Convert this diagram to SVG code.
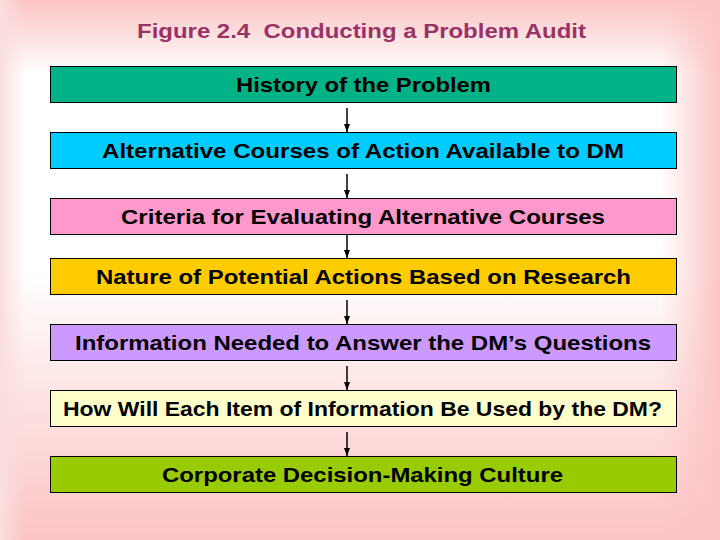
<svg xmlns="http://www.w3.org/2000/svg" width="720" height="540" viewBox="0 0 720 540">
<defs>
<linearGradient id="gTop" x1="0" y1="0" x2="0" y2="1"><stop offset="0" stop-color="#fcc4c4"/><stop offset="1" stop-color="#fcc4c4" stop-opacity="0"/></linearGradient>
<linearGradient id="gBot" x1="0" y1="0" x2="0" y2="1"><stop offset="0" stop-color="#fcc4c4" stop-opacity="0"/><stop offset="1" stop-color="#fcc4c4"/></linearGradient>
<linearGradient id="gRight" x1="0" y1="0" x2="1" y2="0"><stop offset="0" stop-color="#fcc4c4" stop-opacity="0"/><stop offset="1" stop-color="#fcc4c4"/></linearGradient>
<linearGradient id="gLeft" x1="0" y1="0" x2="1" y2="0"><stop offset="0" stop-color="#fbdede"/><stop offset="1" stop-color="#fbdede" stop-opacity="0"/></linearGradient>
<marker id="ah" viewBox="0 0 8 8" refX="8" refY="4" markerWidth="8" markerHeight="8" markerUnits="userSpaceOnUse" orient="auto"><path d="M0,1 L8,4 L0,7 Z" fill="#000"/></marker>
<style>
.box{stroke:#000;stroke-width:1}
.t{font-family:"Liberation Sans",Arial,sans-serif;font-weight:bold;font-size:20.5px;fill:#000;text-anchor:middle}
.title{font-family:"Liberation Sans",Arial,sans-serif;font-weight:bold;font-size:20.5px;fill:#993366;text-anchor:middle}
.c{stroke:#000;stroke-width:1.5;fill:none;marker-end:url(#ah)}
</style>
</defs>
<rect width="720" height="540" fill="#ffffff"/>
<rect x="0" y="0" width="720" height="75" fill="url(#gTop)"/>
<rect x="0" y="270" width="720" height="270" fill="url(#gBot)"/>
<rect x="660" y="0" width="60" height="540" fill="url(#gRight)"/>
<rect x="0" y="0" width="25" height="540" fill="url(#gLeft)"/>
<text class="title" x="361.5" y="38" textLength="449" lengthAdjust="spacingAndGlyphs">Figure 2.4&#160; Conducting a Problem Audit</text>
<g id="connectors">
<line class="c" x1="347" y1="108" x2="347" y2="132"/>
<line class="c" x1="347" y1="174" x2="347" y2="198"/>
<line class="c" x1="347" y1="234" x2="347" y2="258"/>
<line class="c" x1="347" y1="300" x2="347" y2="324"/>
<line class="c" x1="347" y1="366" x2="347" y2="390"/>
<line class="c" x1="347" y1="432" x2="347" y2="456"/>
</g>
<g id="n1"><rect class="box" x="50.5" y="66.5" width="626" height="36" fill="#00b386"/><text class="t" x="363.5" y="92" textLength="255" lengthAdjust="spacingAndGlyphs">History of the Problem</text></g>
<g id="n2"><rect class="box" x="50.5" y="132.5" width="626" height="36" fill="#00ccff"/><text class="t" x="363" y="158" textLength="522" lengthAdjust="spacingAndGlyphs">Alternative Courses of Action Available to DM</text></g>
<g id="n3"><rect class="box" x="50.5" y="198.5" width="626" height="36" fill="#ff99cc"/><text class="t" x="363" y="224" textLength="484" lengthAdjust="spacingAndGlyphs">Criteria for Evaluating Alternative Courses</text></g>
<g id="n4"><rect class="box" x="50.5" y="258.5" width="626" height="36" fill="#ffcc00"/><text class="t" x="363.5" y="284" textLength="535" lengthAdjust="spacingAndGlyphs">Nature of Potential Actions Based on Research</text></g>
<g id="n5"><rect class="box" x="50.5" y="324.5" width="626" height="36" fill="#cc99ff"/><text class="t" x="363" y="350" textLength="576" lengthAdjust="spacingAndGlyphs">Information Needed to Answer the DM’s Questions</text></g>
<g id="n6"><rect class="box" x="50.5" y="390.5" width="626" height="36" fill="#ffffcc"/><text class="t" x="362.5" y="416" textLength="599" lengthAdjust="spacingAndGlyphs">How Will Each Item of Information Be Used by the DM?</text></g>
<g id="n7"><rect class="box" x="50.5" y="456.5" width="626" height="36" fill="#99cc00"/><text class="t" x="362.5" y="482" textLength="401" lengthAdjust="spacingAndGlyphs">Corporate Decision-Making Culture</text></g>
</svg>
